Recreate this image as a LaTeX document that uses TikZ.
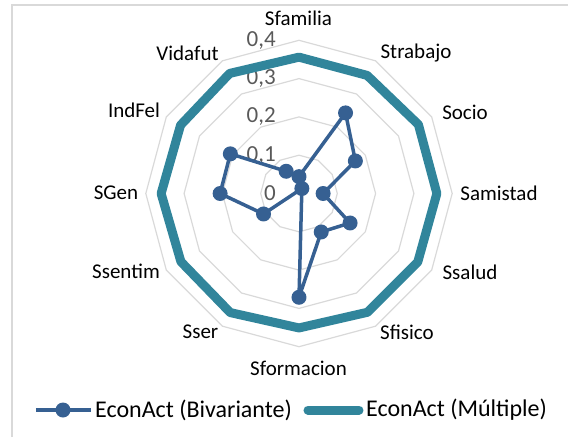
\documentclass[tikz,border=0pt]{standalone}
\usepackage{fontspec}
\setmainfont{Carlito}
\begin{document}
\begin{tikzpicture}[x=1pt,y=1pt]
		\definecolor{gridc}{RGB}{217,217,217}
		\definecolor{biv}{RGB}{54,96,146}
		\definecolor{mult}{RGB}{49,133,155}
		\definecolor{valc}{RGB}{89,89,89}
		\useasboundingbox (-299,-243.5) rectangle (269,193.5);
		\def\r{383}

		% frame
		\draw[gridc, line width=1.5] (-287,-243.5) -- (-287,188.5) -- (269,188.5);

		% rings
		\foreach \v in {0.1,0.2,0.3,0.4}
			\draw[gridc, line width=1.2] (90:\v*\r) \foreach \a in {60,30,...,-240} { -- (\a:\v*\r) } -- cycle;

		% values
		\foreach \v/\t in {0/0, 0.1/{0,1}, 0.2/{0,2}, 0.3/{0,3}, 0.4/{0,4}}
			\node[anchor=east, text=valc, font=\fontsize{23}{23}\selectfont, inner sep=0] at (-23, \v*\r) {\t};

		% axis labels
		\tikzset{axlab/.style={font=\fontsize{21}{21}\selectfont, inner sep=0}}
		\node[axlab] (Sfamilia) at (-0.5,175.5) {Sfamilia};
		\node[axlab] (Strabajo) at (117,140.5) {Strabajo};
		\node[axlab] (Socio) at (166,81.5) {Socio};
		\node[axlab] (Samistad) at (200,0.5) {Samistad};
		\node[axlab] (Ssalud) at (171,-78.5) {Ssalud};
		\node[axlab] (Sfisico) at (108,-138.5) {Sfisico};
		\node[axlab] (Sformacion) at (-0.5,-174.5) {Sformacion};
		\node[axlab] (Sser) at (-98.5,-138.5) {Sser};
		\node[axlab] (Ssentim) at (-173,-78) {Ssentim};
		\node[axlab] (SGen) at (-183,0.5) {SGen};
		\node[axlab] (IndFel) at (-165,83.5) {IndFel};
		\node[axlab] (Vidafut) at (-111.5,140.5) {Vidafut};

		% EconAct (Multiple)
		\draw[mult, line width=9, line join=round]
			(90:0.356*\r) -- (60:0.356*\r) -- (30:0.36*\r) -- (0:0.36*\r) -- (-30:0.358*\r) -- (-60:0.358*\r)
			-- (-90:0.351*\r) -- (-120:0.359*\r) -- (-150:0.356*\r) -- (180:0.36*\r) -- (150:0.357*\r) -- (120:0.362*\r) -- cycle;

		% EconAct (Bivariante)
		\foreach \a/\v [count=\i] in {90/0.044, 60/0.243, 30/0.17, 0/0.063, -30/0.154, -60/0.116,
				-90/0.271, -120/-0.015, -150/0.107, 180/0.206, 150/0.207, 120/0.067}
			\coordinate (b\i) at (\a:\v*\r);
		\draw[biv, line width=3.5, line join=round] (b1) \foreach \i in {2,...,12} { -- (b\i) } -- cycle;
		\foreach \i in {1,...,12}
			\fill[biv] (b\i) circle (7.5);

		% legend
		\coordinate (l1) at (-263,-216.5);
		\coordinate (l2) at (-208,-216.5);
		\draw[biv, line width=3.5] (l1) -- (l2);
		\fill[biv] (-236,-216.5) circle (7.5);
		\node[anchor=west, font=\fontsize{24}{24}\selectfont, inner sep=0] (lb) at (-204,-216.5) {EconAct (Bivariante)};
		\coordinate (l3) at (9,-216.5);
		\coordinate (l4) at (60,-216.5);
		\draw[mult, line width=9, line cap=round] (l3) -- (l4);
		\node[anchor=west, font=\fontsize{24}{24}\selectfont, inner sep=0] (lm) at (67,-216.5) {EconAct (Múltiple)};
	\end{tikzpicture}
\end{document}
